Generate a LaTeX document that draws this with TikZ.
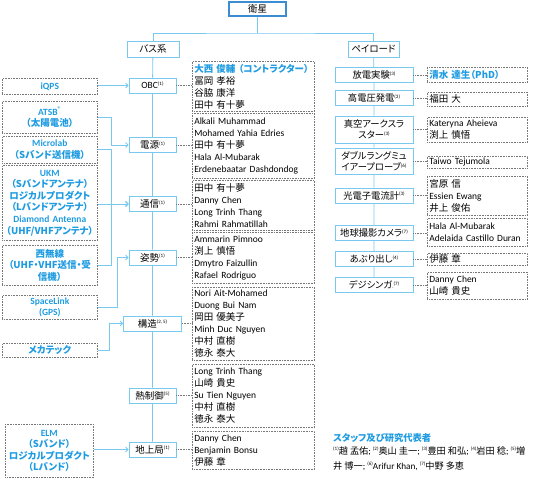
\documentclass[tikz,border=0pt]{standalone}
\usepackage{fontspec}
\setmainfont{Carlito}
\newfontfamily\jp{Noto Sans CJK JP}[RawFeature=+palt]
\usetikzlibrary{arrows.meta,calc}
\definecolor{lb}{RGB}{120,200,240}
\definecolor{tb}{RGB}{30,155,225}
\definecolor{db}{RGB}{60,140,210}
\definecolor{dg}{RGB}{120,120,120}
\newcommand\J[1]{{\jp #1}}
\newcommand\supn[1]{\raisebox{3.3pt}{\fontsize{5}{5}\selectfont(#1)}}
\begin{document}
\begin{tikzpicture}[x=1pt,y=-1pt,
  every node/.style={font=\fontsize{9.5}{12}\selectfont},
  sub/.style={draw=lb, line width=0.8pt, fill=white, inner xsep=1pt, inner ysep=0pt, minimum height=15pt, minimum width=47pt, align=center},
  rsub/.style={sub, minimum width=78pt, font=\fontsize{9.3}{11}\selectfont},
  pbox/.style={draw=dg, densely dotted, line width=0.6pt, anchor=north west, align=left, inner xsep=2pt, inner ysep=0pt, text width=118pt},
  rp/.style={pbox, text width=96pt},
  xbox/.style={draw=dg, densely dotted, line width=0.6pt, anchor=north west, align=center, text=tb, font=\fontsize{9.5}{11.6}\selectfont\bfseries, inner sep=0pt, text width=95pt},
  con/.style={draw=lb, line width=0.8pt},
  arr/.style={con, -{Straight Barb[length=2.5pt,width=5pt]}},
  dotc/.style={draw=dg, densely dotted, line width=0.6pt}]
\useasboundingbox (0,0) rectangle (554,480);

% top
\node[draw=db, line width=1.4pt, fill=white, minimum width=57pt, minimum height=14pt, inner sep=0pt] (eisei) at (257.5,9) {\J{衛星}};
\node[sub, minimum width=52pt, minimum height=16pt] (bus) at (153,49) {\J{バス系}};
\node[sub, minimum width=51pt, minimum height=16pt] (payload) at (373.5,49) {\J{ペイロード}};
\coordinate (j) at (257.5,33);
\draw[con] (eisei.south) -- (eisei.south |- j);
\draw[con] (bus.north) |- (j) -| (payload.north);

% bus subsystems
\node[sub] (obc) at (152.5,85.5) {OBC\supn{1}};
\node[sub] (dengen) at (152.5,145) {\J{電源}\supn{1}};
\node[sub] (tsushin) at (152.5,204) {\J{通信}\supn{1}};
\node[sub] (shisei) at (152.5,257.5) {\J{姿勢}\supn{1}};
\node[sub, minimum width=58pt] (kozo) at (152.5,323.5) {\J{構造}\supn{2, 5}};
\node[sub] (netsu) at (152.5,395.5) {\J{熱制御}\supn{5}};
\node[sub] (chijo) at (152.5,449.5) {\J{地上局}\supn{1}};

% payload subsystems
\node[rsub] (hoden) at (374,75) {\J{放電実験}\supn{3}};
\node[rsub] (kouden) at (374,98) {\J{高電圧発電}\supn{3}};
\node[rsub, minimum height=27pt] (shinku) at (374,129.5) {\J{真空アークスラ}\\\J{スター}\supn{3}};
\node[rsub, minimum height=26pt] (double) at (374,161) {\J{ダブルラングミュ}\\\J{イアープローブ}\supn{6}};
\node[rsub] (kodenshi) at (374,195.5) {\J{光電子電流計}\supn{3}};
\node[rsub] (chikyu) at (374,233) {\J{地球撮影カメラ}\supn{7}};
\node[rsub] (aburi) at (374,259) {\J{あぶり出し}\supn{4}};
\node[rsub] (deji) at (374,285) {\J{デジシンガ}{\fontsize{5}{5}\selectfont.}\supn{7}};

% trunks (drawn behind via order: nodes filled white)
\begin{scope}[on background layer/.try]
\end{scope}
\draw[con] (bus) -- (obc) -- (dengen) -- (tsushin) -- (shisei) -- (kozo) -- (netsu) -- (chijo);
\draw[con] (payload) -- (hoden) -- (kouden) -- (shinku) -- (double) -- (kodenshi) -- (chikyu) -- (aburi) -- (deji);

% bus people
\node[pbox, minimum height=50pt] (pobc) at (192,61) {\mbox{\J{\bfseries\color{tb}大西 俊輔 （コントラクター）}}\\\J{冨岡 孝裕}\\\J{谷脇 康洋}\\\J{田中 有十夢}};
\node[pbox, minimum height=65pt] (pdengen) at (192,113) {Alkali Muhammad\\Mohamed Yahia Edries\\\J{田中 有十夢}\\Hala Al-Mubarak\\Erdenebaatar Dashdondog};
\node[pbox, minimum height=50pt] (ptsushin) at (192,180) {\J{田中 有十夢}\\Danny Chen\\Long Trinh Thang\\Rahmi Rahmatillah};
\node[pbox, minimum height=51pt] (pshisei) at (192,232) {Ammarin Pimnoo\\\J{渕上 慎悟}\\Dmytro Faizullin\\Rafael Rodriguo};
\node[pbox, minimum height=73pt] (pkozo) at (192,287) {Nori Ait-Mohamed\\Duong Bui Nam\\\J{岡田 優美子}\\Minh Duc Nguyen\\\J{中村 直樹}\\\J{徳永 泰大}};
\node[pbox, minimum height=63pt] (pnetsu) at (192,364) {Long Trinh Thang\\\J{山崎 貴史}\\Su Tien Nguyen\\\J{中村 直樹}\\\J{徳永 泰大}};
\node[pbox, minimum height=38pt] (pchijo) at (192,431) {Danny Chen\\Benjamin Bonsu\\\J{伊藤 章}};

% payload people
\node[rp, minimum height=15pt] (phoden) at (427,67) {\J{\bfseries\color{tb}清水 達生（PhD）}};
\node[rp, minimum height=14pt] (pkouden) at (427,92) {\J{福田 大}};
\node[rp, minimum height=25pt] (pshinku) at (427,117) {Kateryna Aheieva\\\J{渕上 慎悟}};
\node[rp, minimum height=12pt] (pdouble) at (427,155.5) {Taiwo Tejumola};
\node[rp, minimum height=39pt] (pkodenshi) at (427,176) {\J{宮原 信}\\Essien Ewang\\\J{井上 俊佑}};
\node[rp, minimum height=28pt] (pchikyu) at (427,218) {Hala Al-Mubarak\\\mbox{Adelaida Castillo Duran}};
\node[rp, minimum height=12pt] (paburi) at (427,253) {\J{伊藤 章}};
\node[rp, minimum height=27pt] (pdeji) at (427,272) {Danny Chen\\\J{山崎 貴史}};

\foreach \a/\b in {obc/pobc, dengen/pdengen, tsushin/ptsushin, shisei/pshisei, kozo/pkozo, netsu/pnetsu, chijo/pchijo, hoden/phoden, kouden/pkouden, shinku/pshinku, double/pdouble, kodenshi/pkodenshi, chikyu/pchikyu, aburi/paburi, deji/pdeji}
  \draw[dotc] (\a.east) -- (\a.east -| \b.west);

% external partners
\node[xbox, minimum height=16pt] (iqps) at (2,78) {iQPS};
\node[xbox, minimum height=32pt] (atsb) at (2,101) {ATSB\textsuperscript{®}\\\J{（太陽電池）}};
\node[xbox, minimum height=27pt] (microlab) at (2,136) {Microlab\\\J{（Sバンド送信機）}};
\node[xbox, minimum height=75pt] (ukm) at (2,165) {UKM\\\J{（Sバンドアンテナ）}\\\J{ロジカルプロダクト}\\\J{（Lバンドアンテナ）}\\Diamond Antenna\\\J{（UHF/VHFアンテナ）}};
\node[xbox, minimum height=40pt] (nishi) at (2,245) {\J{西無線}\\\mbox{\J{（UHF・VHF送信・受}}\\\J{信機）}};
\node[xbox, minimum height=24pt] (spacelink) at (2,295) {SpaceLink\\(GPS)};
\node[xbox, minimum height=14pt] (meka) at (2,343) {\J{メカテック}};
\node[xbox, minimum height=53pt, text width=88pt] (elm) at (5,424) {ELM\\\J{（Sバンド）}\\\J{ロジカルプロダクト}\\\J{（Lバンド）}};

\draw[arr] (iqps.east |- obc.west) -- (obc.west);
\draw[arr] (atsb.east) -| ($(dengen.west)+(-17,0)$) -- (dengen.west);
\draw[arr] (microlab.east) -| ($(tsushin.west)+(-17,0)$) -- (tsushin.west);
\draw[arr] (ukm.east |- tsushin.west) -- (tsushin.west);
\draw[arr] (nishi.east) -| ($(tsushin.west)+(-17,0)$) -- (tsushin.west);
\draw[arr] (spacelink.east) -| ($(shisei.west)+(-11,0)$) -- (shisei.west);
\draw[arr] (meka.east) -| ($(kozo.west)+(-13.5,0)$) -- (kozo.west);
\draw[arr] (elm.east |- chijo.west) -- (chijo.west);

% legend
\node[anchor=west, inner sep=0pt, text=tb, font=\fontsize{9.3}{11}\selectfont] (lt) at (333,438) {\J{\bfseries スタッフ及び研究代表者}};
\node[anchor=west, inner sep=0pt, font=\fontsize{9.2}{11}\selectfont] (l1) at (333,451) {\supn{1}\J{趙 孟佑}; \supn{2}\J{奥山 圭一}; \supn{3}\J{豊田 和弘}; \supn{4}\J{岩田 稔}; \supn{5}\J{増}};
\node[anchor=west, inner sep=0pt, font=\fontsize{9.2}{11}\selectfont] (l2) at (333,466) {\J{井 博一}; \supn{6}Arifur Khan, \supn{7}\J{中野 多恵}};
\end{tikzpicture}
\end{document}
